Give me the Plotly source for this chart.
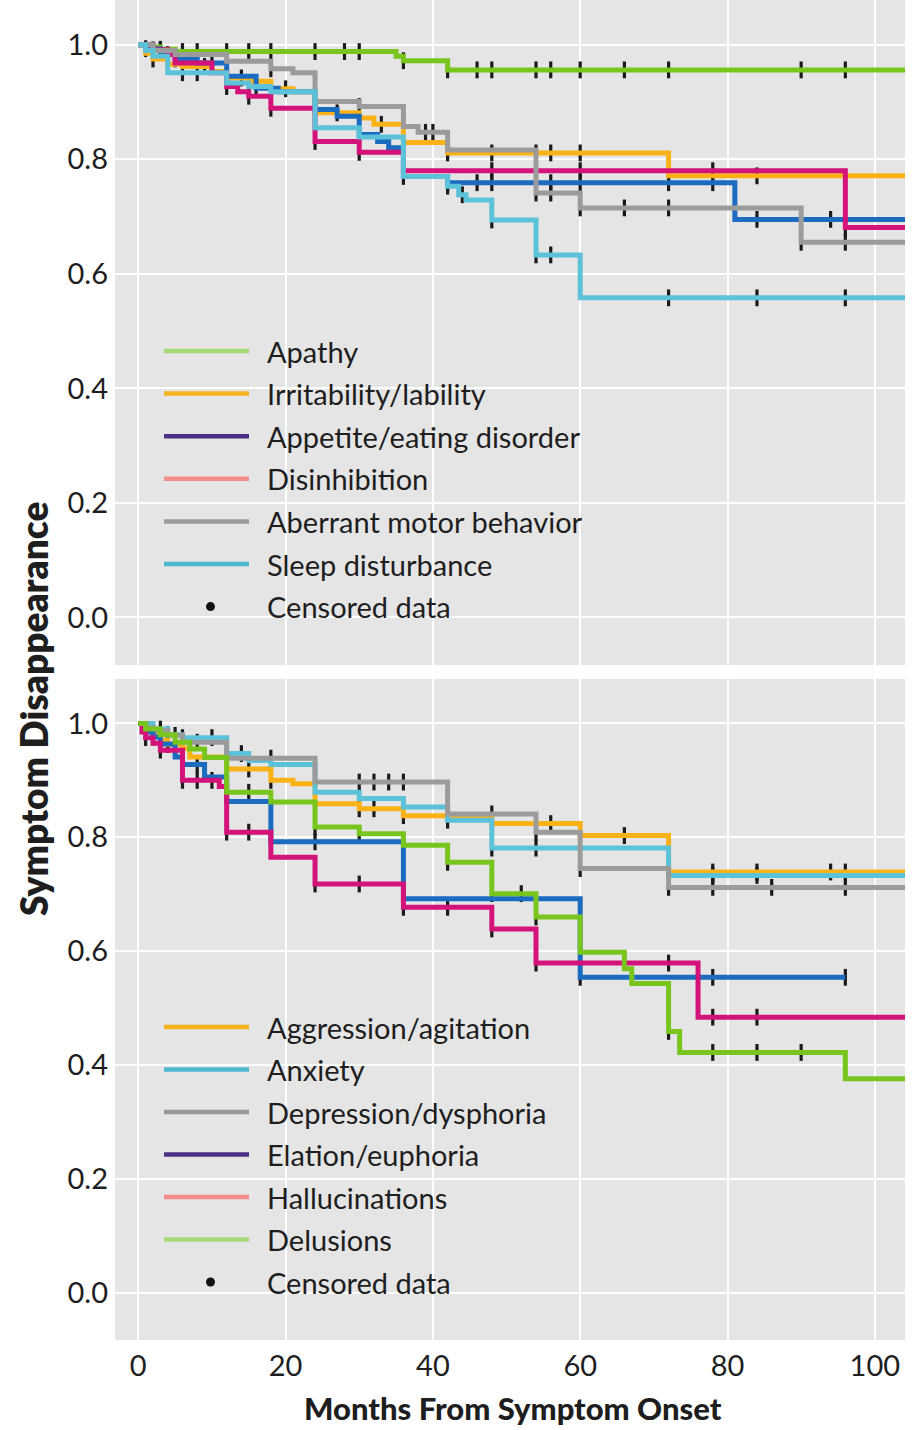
import numpy as np
import plotly.graph_objects as go

W, H = 917, 1430

# ---------------- Upper panel: behavioural symptoms ----------------
upper_labels = ["Apathy", "Irritability/lability", "Appetite/eating disorder",
                "Disinhibition", "Aberrant motor behavior", "Sleep disturbance"]
upper_key_colors = ["#a5d97a", "#f6b11f", "#4a2f86", "#f58c8c", "#9a9a9a", "#4db7cd"]
upper_line_colors = ["#78c51e", "#fbb216", "#1b6bc0", "#d3137a", "#9b9b9b", "#5bc2d9"]

apathy_t = [0, 1, 3, 5, 35, 36, 42]
apathy_s = [1.0, 0.996, 0.992, 0.988, 0.980, 0.972, 0.956]
apathy_cens = [3, 6, 8, 12, 15, 18, 24, 28, 30, 36, 42, 46, 48, 54, 56, 60, 66, 72, 90, 96]

irritability_t = [0, 1, 2, 4, 6, 10, 12, 15, 18, 21, 24, 30, 32, 36, 42, 72]
irritability_s = [1.0, 0.985, 0.975, 0.966, 0.962, 0.953, 0.942, 0.936, 0.923, 0.918,
                  0.881, 0.872, 0.861, 0.829, 0.811, 0.771]
irritability_cens = [2, 4, 9, 14, 20, 27, 33, 42, 48, 54, 56, 60, 72, 84]

appetite_t = [0, 1, 3, 5, 8, 12, 16, 19, 24, 27, 30, 32.5, 34, 36, 42, 81]
appetite_s = [1.0, 0.993, 0.985, 0.975, 0.968, 0.945, 0.924, 0.918, 0.887, 0.875,
              0.843, 0.831, 0.820, 0.770, 0.759, 0.695]
appetite_cens = [1, 5, 10, 16, 30, 42, 46, 48, 56, 60, 72, 78, 84, 94]

disinhibition_t = [0, 2, 4, 5, 10, 12, 13.5, 15, 18, 24, 30, 36, 96]
disinhibition_s = [1.0, 0.991, 0.983, 0.968, 0.951, 0.927, 0.918, 0.910, 0.889,
                   0.831, 0.812, 0.780, 0.681]
disinhibition_cens = [2, 4, 12, 15, 18, 24, 30, 36, 48, 60, 78, 96]

aberrant_t = [0, 2, 5, 12, 18, 21, 24, 30, 36, 38, 42, 54, 60, 90]
aberrant_s = [1.0, 0.990, 0.983, 0.971, 0.958, 0.951, 0.901, 0.892, 0.857, 0.847,
              0.816, 0.741, 0.715, 0.655]
aberrant_cens = [3, 12, 18, 30, 39, 40, 54, 56, 60, 66, 72, 90, 96]

sleep_t = [0, 1, 2, 4, 12, 15, 18, 24, 30, 36, 42, 43.5, 44.5, 48, 54, 60]
sleep_s = [1.0, 0.990, 0.980, 0.951, 0.933, 0.927, 0.918, 0.855, 0.839, 0.770,
           0.753, 0.738, 0.729, 0.694, 0.633, 0.558]
sleep_cens = [6, 8, 24, 36, 42, 44, 48, 54, 56, 72, 84, 96]

upper_end = [110, 110, 110, 110, 110, 110]

# ---------------- Lower panel: psychiatric symptoms ----------------
lower_labels = ["Aggression/agitation", "Anxiety", "Depression/dysphoria",
                "Elation/euphoria", "Hallucinations", "Delusions"]
lower_key_colors = ["#f6b11f", "#4db7cd", "#9a9a9a", "#4a2f86", "#f58c8c", "#a5d97a"]
lower_line_colors = ["#fbb216", "#5bc2d9", "#9b9b9b", "#1b6bc0", "#d3137a", "#78c51e"]

aggression_t = [0, 1, 2, 3, 4, 6, 7, 12, 18, 21, 24, 30, 36, 48, 60, 72]
aggression_s = [1.0, 0.990, 0.980, 0.970, 0.963, 0.956, 0.941, 0.920, 0.900, 0.894,
                0.859, 0.850, 0.838, 0.824, 0.803, 0.739]
aggression_cens = [2, 4, 6, 12, 15, 18, 24, 30, 32, 36, 48, 56, 66, 78, 84, 94, 96]

anxiety_t = [0, 2, 4, 6, 12, 15, 18, 24, 30, 36, 42, 48, 72]
anxiety_s = [1.0, 0.990, 0.980, 0.975, 0.947, 0.935, 0.928, 0.879, 0.868, 0.853,
             0.830, 0.781, 0.733]
anxiety_cens = [3, 6, 10, 14, 30, 36, 42, 48, 54, 72, 78, 84]

depression_t = [0, 1, 2, 4, 6, 12, 24, 42, 54, 60, 72]
depression_s = [1.0, 0.993, 0.987, 0.979, 0.967, 0.939, 0.897, 0.841, 0.809, 0.745, 0.712]
depression_cens = [2, 5, 8, 18, 30, 32, 34, 36, 42, 48, 54, 60, 72, 78, 86, 96]

elation_t = [0, 1, 2, 3, 5, 6, 9, 12, 18, 36, 60]
elation_s = [1.0, 0.985, 0.976, 0.964, 0.941, 0.928, 0.906, 0.863, 0.792, 0.692, 0.554]
elation_cens = [2, 4, 8, 18, 24, 36, 60, 78, 96]

hallucination_t = [0, 0.5, 1, 2, 3, 6, 11, 12, 18, 24, 36, 48, 54, 76]
hallucination_s = [1.0, 0.985, 0.975, 0.965, 0.953, 0.900, 0.889, 0.809, 0.765,
                   0.718, 0.677, 0.639, 0.579, 0.484]
hallucination_cens = [1, 3, 6, 8, 10, 12, 15, 24, 30, 36, 42, 48, 54, 72, 78, 84]

delusion_t = [0, 1, 3, 5, 7, 9, 12, 18, 24, 30, 36, 42, 48, 54, 60, 66, 67, 72, 73.5, 96]
delusion_s = [1.0, 0.990, 0.980, 0.967, 0.955, 0.940, 0.879, 0.862, 0.818, 0.806,
              0.786, 0.756, 0.701, 0.660, 0.598, 0.569, 0.543, 0.459, 0.422, 0.376]
delusion_cens = [4, 15, 24, 30, 42, 48, 52, 54, 72, 78, 84, 90]

lower_end = [110, 110, 110, 96, 110, 110]

upper_times = [apathy_t, irritability_t, appetite_t, disinhibition_t, aberrant_t, sleep_t]
upper_surv = [apathy_s, irritability_s, appetite_s, disinhibition_s, aberrant_s, sleep_s]
upper_cens = [apathy_cens, irritability_cens, appetite_cens, disinhibition_cens,
              aberrant_cens, sleep_cens]
lower_times = [aggression_t, anxiety_t, depression_t, elation_t, hallucination_t, delusion_t]
lower_surv = [aggression_s, anxiety_s, depression_s, elation_s, hallucination_s, delusion_s]
lower_cens = [aggression_cens, anxiety_cens, depression_cens, elation_cens,
              hallucination_cens, delusion_cens]

x_ticks = [0, 20, 40, 60, 80, 100]
y_ticks = [0.0, 0.2, 0.4, 0.6, 0.8, 1.0]

FONT = "Lato"
TEXT = "#1e1e1e"


def step_value(times, surv, t):
    i = int(np.searchsorted(np.asarray(times, dtype=float), t, side="right")) - 1
    return surv[max(i, 0)]


fig = go.Figure()


def add_panel(times_list, surv_list, cens_list, ends, colors, xa, ya):
    # censoring ticks first, so the curves sit over their centres
    for times, surv, cens in zip(times_list, surv_list, cens_list):
        cy = [step_value(times, surv, c) for c in cens]
        fig.add_trace(go.Scatter(
            x=cens, y=cy, mode="markers", xaxis=xa, yaxis=ya,
            marker=dict(symbol="line-ns", size=12, color="#1a1a1a",
                        line=dict(width=3.2, color="#1a1a1a")),
            showlegend=False, hoverinfo="skip"))
    for times, surv, end, col in zip(times_list, surv_list, ends, colors):
        fig.add_trace(go.Scatter(
            x=list(times) + [end], y=list(surv) + [surv[-1]], mode="lines",
            xaxis=xa, yaxis=ya, line=dict(shape="hv", color=col, width=5),
            showlegend=False, hoverinfo="skip"))


add_panel(upper_times, upper_surv, upper_cens, upper_end, upper_line_colors, "x", "y")
add_panel(lower_times, lower_surv, lower_cens, lower_end, lower_line_colors, "x2", "y2")


def px(x):
    return x / W


def py(y):
    return 1 - y / H


x_dom = [px(115), px(905)]
y_range = [-0.083, 1.078]
x_range = [-3.16, 104.1]

axis_common = dict(range=x_range, tickvals=x_ticks, showgrid=True, gridcolor="white",
                   gridwidth=2, zeroline=False, showline=False, ticks="",
                   tickfont=dict(family=FONT, size=29, color=TEXT))
yaxis_common = dict(range=y_range, tickvals=y_ticks, ticktext=[f"{v:.1f}" for v in y_ticks],
                    showgrid=True, gridcolor="white", gridwidth=2, zeroline=False,
                    showline=False, ticks="", ticklabelstandoff=6,
                    tickfont=dict(family=FONT, size=29, color=TEXT))

fig.update_layout(
    width=W, height=H,
    margin=dict(l=0, r=0, t=0, b=0),
    paper_bgcolor="white",
    plot_bgcolor="#e5e5e5",
    showlegend=False,
    xaxis=dict(domain=x_dom, anchor="y", showticklabels=False, **axis_common),
    yaxis=dict(domain=[py(665), 1.0], anchor="x", **yaxis_common),
    xaxis2=dict(domain=x_dom, anchor="y2", showticklabels=True, ticklabelstandoff=6,
                **axis_common),
    yaxis2=dict(domain=[py(1340), py(679)], anchor="x2", **yaxis_common),
)

shapes = []
annotations = []


def add_key(labels, key_colors, first_row, step):
    for i, (lab, col) in enumerate(zip(labels, key_colors)):
        yy = first_row + i * step
        shapes.append(dict(type="line", xref="paper", yref="paper",
                           x0=px(164), x1=px(249), y0=py(yy), y1=py(yy),
                           line=dict(color=col, width=4.5)))
        annotations.append(dict(xref="paper", yref="paper", x=px(265), y=py(yy),
                                xanchor="left", yanchor="middle", showarrow=False,
                                text=lab, font=dict(family=FONT, size=29, color=TEXT)))
    yy = first_row + len(labels) * step
    shapes.append(dict(type="circle", xref="paper", yref="paper",
                       x0=px(206), x1=px(215), y0=py(yy - 4.5), y1=py(yy + 4.5),
                       fillcolor="#111111", line=dict(width=0)))
    annotations.append(dict(xref="paper", yref="paper", x=px(265), y=py(yy),
                            xanchor="left", yanchor="middle", showarrow=False,
                            text="Censored data", font=dict(family=FONT, size=29, color=TEXT)))


add_key(upper_labels, upper_key_colors, 351, 42.6)
add_key(lower_labels, lower_key_colors, 1027, 42.5)

annotations.append(dict(xref="paper", yref="paper", x=px(33), y=py(709),
                        xanchor="center", yanchor="middle", showarrow=False, textangle=-90,
                        text="Symptom Disappearance",
                        font=dict(family=FONT, size=37, color=TEXT, weight=800)))
annotations.append(dict(xref="paper", yref="paper", x=px(513), y=py(1408),
                        xanchor="center", yanchor="middle", showarrow=False,
                        text="Months From Symptom Onset",
                        font=dict(family=FONT, size=31, color=TEXT, weight=900)))

fig.update_layout(shapes=shapes, annotations=annotations)

fig.write_html("out.html")
